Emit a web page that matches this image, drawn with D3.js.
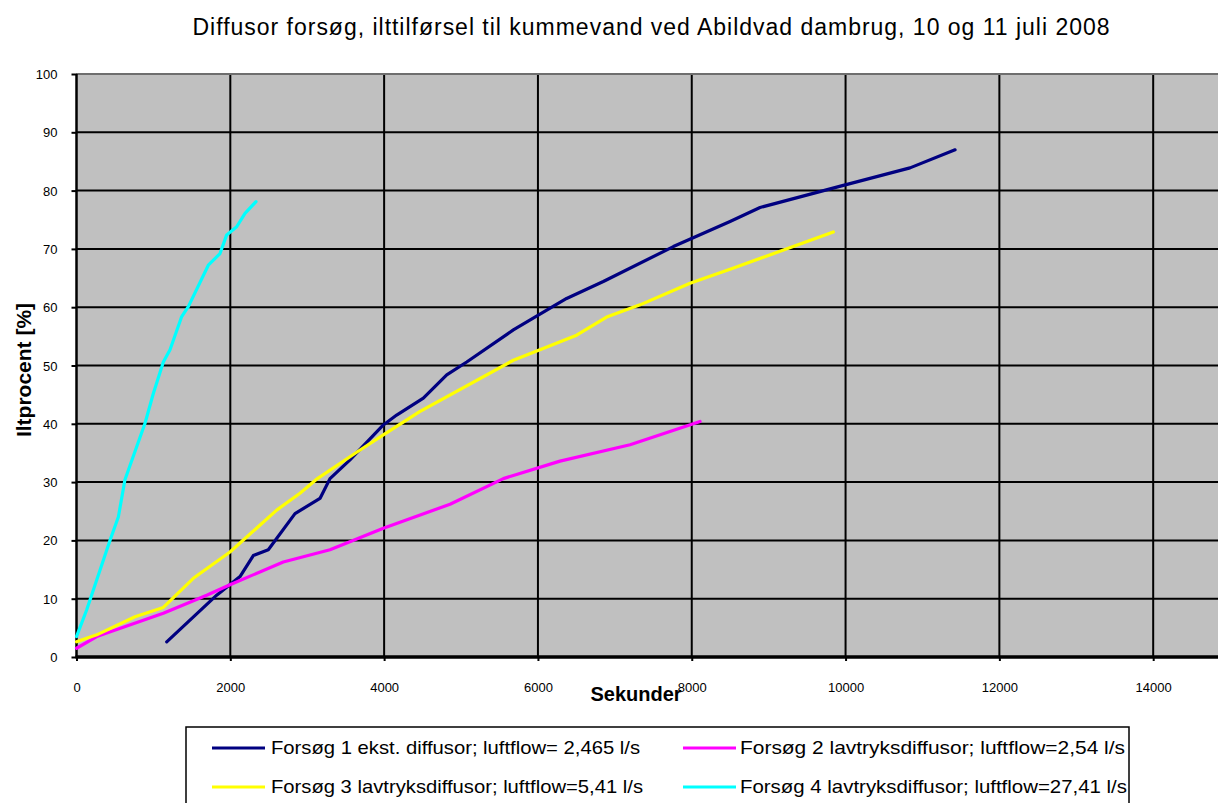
<!DOCTYPE html>
<html>
<head>
<meta charset="utf-8">
<script src="https://cdn.jsdelivr.net/npm/d3@7/dist/d3.min.js"></script>
<style>
  html, body { margin: 0; padding: 0; background: #fff; overflow: hidden; }
  svg { display: block; font-family: Arial, "Liberation Sans", sans-serif; }
</style>
</head>
<body>
<svg id="chart" width="1218" height="803"></svg>
<script>
// Dissolved-oxygen saturation (%) over time (s) for four diffuser trials
const seriesNames = [
  "Forsøg 1 ekst. diffusor; luftflow= 2,465 l/s",
  "Forsøg 2 lavtryksdiffusor; luftflow=2,54 l/s",
  "Forsøg 3 lavtryksdiffusor;  luftflow=5,41 l/s",
  "Forsøg 4 lavtryksdiffusor; luftflow=27,41 l/s"
];
const seriesColors = ["#000080", "#FF00FF", "#FFFF00", "#00FFFF"];

const forsoeg1X = [1173, 1823, 2126, 2299, 2494, 2841, 3166, 3296, 3556, 3990, 4163, 4510, 4814, 5074, 5680, 6373, 6850, 7761, 8498, 8888, 9971, 10838, 11424];
const forsoeg1Y = [2.6, 10.6, 13.8, 17.4, 18.4, 24.6, 27.2, 30.6, 33.8, 39.8, 41.5, 44.4, 48.4, 50.6, 56.1, 61.5, 64.4, 70.4, 74.7, 77.1, 80.9, 83.9, 87.0];

const forsoeg2X = [0, 263, 1129, 1693, 1996, 2689, 3296, 3990, 4857, 5550, 6287, 7198, 8108];
const forsoeg2Y = [1.5, 3.5, 7.5, 10.6, 12.4, 16.3, 18.4, 22.1, 26.2, 30.6, 33.6, 36.4, 40.4];

const forsoeg3X = [0, 263, 761, 1129, 1519, 1996, 2603, 2906, 3133, 3653, 3990, 4462, 5680, 6503, 6893, 7328, 7978, 8498, 9841];
const forsoeg3Y = [2.6, 3.8, 6.9, 8.5, 13.5, 18.0, 25.2, 28.1, 30.6, 35.2, 38.1, 42.1, 50.9, 55.2, 58.3, 60.4, 64.1, 66.5, 72.9];

const forsoeg4X = [0, 133, 435, 544, 630, 891, 999, 1129, 1216, 1368, 1454, 1714, 1866, 1953, 2083, 2191, 2334];
const forsoeg4Y = [3.5, 8.1, 20, 24, 30.4, 40.1, 45.2, 50.6, 52.7, 58.4, 60.1, 67.2, 69.2, 72.4, 73.8, 76.1, 78.1];

const xTicks = [0, 2000, 4000, 6000, 8000, 10000, 12000, 14000];
const yTicks = [0, 10, 20, 30, 40, 50, 60, 70, 80, 90, 100];

const titleText = "Diffusor forsøg, ilttilførsel til kummevand ved Abildvad dambrug, 10 og 11 juli 2008";
const xLabel = "Sekunder";
const yLabel = "Iltprocent [%]";

// Drawing order follows the series order
const series = [
  { name: seriesNames[0], color: seriesColors[0], xs: forsoeg1X, ys: forsoeg1Y },
  { name: seriesNames[1], color: seriesColors[1], xs: forsoeg2X, ys: forsoeg2Y },
  { name: seriesNames[2], color: seriesColors[2], xs: forsoeg3X, ys: forsoeg3Y },
  { name: seriesNames[3], color: seriesColors[3], xs: forsoeg4X, ys: forsoeg4Y }
];

const svg = d3.select("#chart");
const W = 1218, H = 803;
const plot = { left: 76.5, top: 74, bottom: 657, right: 1307 };

const x = d3.scaleLinear().domain([0, 16000]).range([plot.left, plot.right]);
const y = d3.scaleLinear().domain([0, 100]).range([plot.bottom, plot.top]);

// Plot area background
svg.append("rect")
  .attr("x", plot.left).attr("y", plot.top)
  .attr("width", W - plot.left).attr("height", plot.bottom - plot.top)
  .attr("fill", "#C0C0C0");

// Gridlines
const grid = svg.append("g");
grid.selectAll("line.h").data(yTicks.filter(d => d > 0)).join("line")
  .attr("x1", plot.left).attr("x2", W)
  .attr("y1", d => y(d)).attr("y2", d => y(d))
  .attr("stroke", "#000").attr("stroke-width", 2);
grid.selectAll("line.v").data(xTicks.filter(d => d > 0)).join("line")
  .attr("x1", d => x(d)).attr("x2", d => x(d))
  .attr("y1", plot.top).attr("y2", plot.bottom)
  .attr("stroke", "#000").attr("stroke-width", 2);

// Top border of plot area
svg.append("line")
  .attr("x1", plot.left).attr("x2", W)
  .attr("y1", plot.top).attr("y2", plot.top)
  .attr("stroke", "#6e6e6e").attr("stroke-width", 2);

// Axes
const xAxis = d3.axisBottom(x).tickValues(xTicks).tickSize(4).tickFormat(d3.format("d"));
const yAxis = d3.axisLeft(y).tickValues(yTicks).tickSize(5).tickFormat(d3.format("d"));

const gx = svg.append("g").attr("transform", `translate(0,${plot.bottom})`).call(xAxis);
gx.select(".domain").remove();
gx.selectAll(".tick line").attr("stroke", "#000").attr("stroke-width", 2);
gx.selectAll(".tick text")
  .attr("y", 30).attr("dy", "0.35em")
  .attr("font-size", 13).attr("fill", "#000")
  .attr("font-family", "Arial, 'Liberation Sans', sans-serif");

const gy = svg.append("g").attr("transform", `translate(${plot.left},0)`).call(yAxis);
gy.select(".domain").remove();
gy.selectAll(".tick line").attr("stroke", "#000").attr("stroke-width", 2);
gy.selectAll(".tick text")
  .attr("x", -19).attr("dy", "0.35em")
  .attr("font-size", 13).attr("fill", "#000")
  .attr("font-family", "Arial, 'Liberation Sans', sans-serif");

// Axis lines
svg.append("line")
  .attr("x1", plot.left).attr("x2", plot.left)
  .attr("y1", plot.top).attr("y2", plot.bottom + 1)
  .attr("stroke", "#000").attr("stroke-width", 2.5);
svg.append("line")
  .attr("x1", plot.left - 1).attr("x2", W)
  .attr("y1", plot.bottom).attr("y2", plot.bottom)
  .attr("stroke", "#000").attr("stroke-width", 3.5);

// Data lines
const line = d3.line().x(d => x(d[0])).y(d => y(d[1]));
svg.append("g").selectAll("path").data(series).join("path")
  .attr("d", s => line(s.xs.map((v, i) => [v, s.ys[i]])))
  .attr("fill", "none")
  .attr("stroke", s => s.color)
  .attr("stroke-width", 3.2)
  .attr("stroke-linejoin", "round")
  .attr("stroke-linecap", "round");

// Title
svg.append("text")
  .attr("x", 651).attr("y", 35)
  .attr("text-anchor", "middle")
  .attr("font-size", 23)
  .attr("textLength", 917).attr("lengthAdjust", "spacing")
  .text(titleText);

// Axis titles
svg.append("text")
  .attr("x", 636).attr("y", 701)
  .attr("text-anchor", "middle")
  .attr("font-size", 20).attr("font-weight", "bold")
  .text(xLabel);

svg.append("text")
  .attr("transform", "translate(31,370) rotate(-90)")
  .attr("text-anchor", "middle")
  .attr("font-size", 21).attr("font-weight", "bold")
  .text(yLabel);

// Legend
const legend = svg.append("g");
legend.append("rect")
  .attr("x", 186).attr("y", 727)
  .attr("width", 943).attr("height", 100)
  .attr("fill", "#fff").attr("stroke", "#000").attr("stroke-width", 1.5);

const legendPos = [
  { lx: 212, tx: 271, ty: 748, w: 369 },
  { lx: 683, tx: 740, ty: 748, w: 385 },
  { lx: 212, tx: 271, ty: 787, w: 372 },
  { lx: 683, tx: 740, ty: 787, w: 387 }
];
const items = legend.selectAll("g.item").data(series).join("g");
items.append("line")
  .attr("x1", (d, i) => legendPos[i].lx).attr("x2", (d, i) => legendPos[i].lx + 53)
  .attr("y1", (d, i) => legendPos[i].ty).attr("y2", (d, i) => legendPos[i].ty)
  .attr("stroke", d => d.color).attr("stroke-width", 3);
items.append("text")
  .attr("x", (d, i) => legendPos[i].tx).attr("y", (d, i) => legendPos[i].ty)
  .attr("dy", "0.35em")
  .attr("font-size", 18.5)
  .attr("textLength", (d, i) => legendPos[i].w).attr("lengthAdjust", "spacingAndGlyphs")
  .text(d => d.name);
</script>
</body>
</html>
